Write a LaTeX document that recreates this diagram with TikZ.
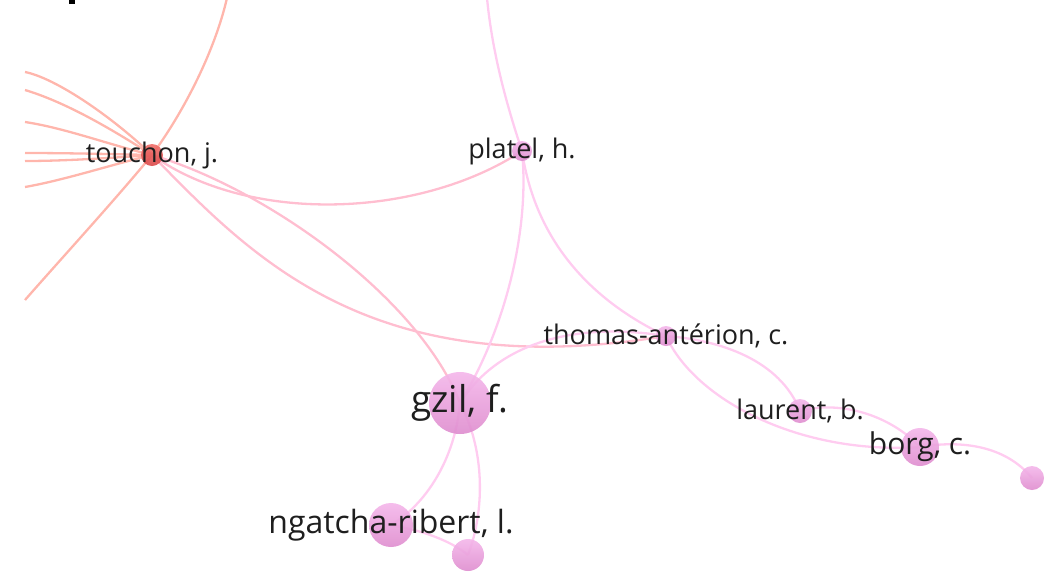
\documentclass[tikz,border=0pt]{standalone}
\usepackage{fontspec}
\setmainfont{Open Sans}
\definecolor{rededge}{RGB}{255,182,172}
\definecolor{pinkedge}{RGB}{255,204,240}
\definecolor{mixedge}{RGB}{255,190,208}
\definecolor{redtop}{RGB}{240,110,105}
\definecolor{redbot}{RGB}{218,72,72}
\definecolor{pinktop}{RGB}{244,182,234}
\definecolor{pinkbot}{RGB}{222,140,206}
\definecolor{labtext}{RGB}{30,30,30}
\begin{document}
\begin{tikzpicture}[x=1pt,y=-1pt,
  redline/.style={draw=rededge, line width=2.3pt},
  pinkline/.style={draw=pinkedge, line width=2.3pt},
  dot/.style={circle, inner sep=0pt, minimum size=#1, fill opacity=0.9, text opacity=1},
  reddot/.style={dot=#1, top color=redtop, bottom color=redbot},
  pinkdot/.style={dot=#1, top color=pinktop, bottom color=pinkbot},
  lab/.style={text=labtext, font=\fontsize{#1}{#1}\selectfont, inner sep=0pt}]
\useasboundingbox (0,0) rectangle (1051,571);
\fill[black] (69,0) rectangle (75,4);
% node places
\coordinate (touchon) at (152,155);
\coordinate (platel) at (522,151);
\coordinate (thomas) at (666,336);
\coordinate (gzil) at (460,403);
\coordinate (ngatcha) at (391,525);
\coordinate (lower) at (468,555);
\coordinate (laurent) at (800,411);
\coordinate (borg) at (920,447);
\coordinate (farright) at (1032,478);
% ends cut at the frame
\coordinate (topA) at (227,-2);
\coordinate (topB) at (487,-2);
\coordinate (sw) at (25,300);
\coordinate (w1) at (25,72);
\coordinate (w2) at (25,90);
\coordinate (w3) at (25,122);
\coordinate (w4) at (25,153);
\coordinate (w5) at (25,161);
\coordinate (w6) at (25,187);
% links
\draw[redline] (touchon) .. controls (185,110) and (215,50) .. (topA);
\draw[redline] (touchon) .. controls (115,200) and (60,260) .. (sw);
\draw[redline] (touchon) .. controls (110,115) and (55,78) .. (w1);
\draw[redline] (touchon) .. controls (110,128) and (65,102) .. (w2);
\draw[redline] (touchon) .. controls (110,145) and (65,128) .. (w3);
\draw[redline] (touchon) .. controls (110,154) and (65,153) .. (w4);
\draw[redline] (touchon) .. controls (110,158) and (65,161) .. (w5);
\draw[redline] (touchon) .. controls (110,165) and (65,180) .. (w6);
\draw[redline, draw=mixedge] (touchon) .. controls (250,225) and (420,218) .. (platel);
\draw[redline, draw=mixedge] (touchon) .. controls (270,190) and (420,300) .. (gzil);
\draw[redline, draw=mixedge] (touchon) .. controls (250,255) and (370,385) .. (thomas);
\draw[pinkline] (platel) .. controls (505,100) and (492,50) .. (topB);
\draw[pinkline] (platel) .. controls (530,230) and (505,330) .. (gzil);
\draw[pinkline] (platel) .. controls (535,240) and (590,300) .. (thomas);
\draw[pinkline] (gzil) .. controls (500,340) and (580,322) .. (thomas);
\draw[pinkline] (thomas) .. controls (720,340) and (780,360) .. (laurent);
\draw[pinkline] (thomas) .. controls (695,400) and (800,455) .. (borg);
\draw[pinkline] (laurent) .. controls (840,400) and (890,415) .. (borg);
\draw[pinkline] (borg) .. controls (960,440) and (1005,445) .. (farright);
\draw[pinkline] (gzil) .. controls (455,460) and (425,505) .. (ngatcha);
\draw[pinkline] (gzil) .. controls (485,450) and (485,510) .. (lower);
\draw[pinkline] (ngatcha) .. controls (420,530) and (450,540) .. (lower);
% circles and names
\node[reddot=22pt, label={[lab=27]center:touchon, j.}] (n-touchon) at (touchon) {};
\node[pinkdot=20pt, label={[lab=27]center:platel, h.}] (n-platel) at (platel) {};
\node[pinkdot=20pt, label={[lab=27]center:thomas-antérion, c.}] (n-thomas) at (thomas) {};
\node[pinkdot=62pt, label={[lab=37]center:gzil, f.}] (n-gzil) at (gzil) {};
\node[pinkdot=44pt, label={[lab=32]center:ngatcha-ribert, l.}] (n-ngatcha) at (ngatcha) {};
\node[pinkdot=32pt] (n-lower) at (lower) {};
\node[pinkdot=24pt, label={[lab=27]center:laurent, b.}] (n-laurent) at (laurent) {};
\node[pinkdot=38pt, label={[lab=30]center:borg, c.}] (n-borg) at (borg) {};
\node[pinkdot=24pt] (n-farright) at (farright) {};
\end{tikzpicture}
\end{document}
